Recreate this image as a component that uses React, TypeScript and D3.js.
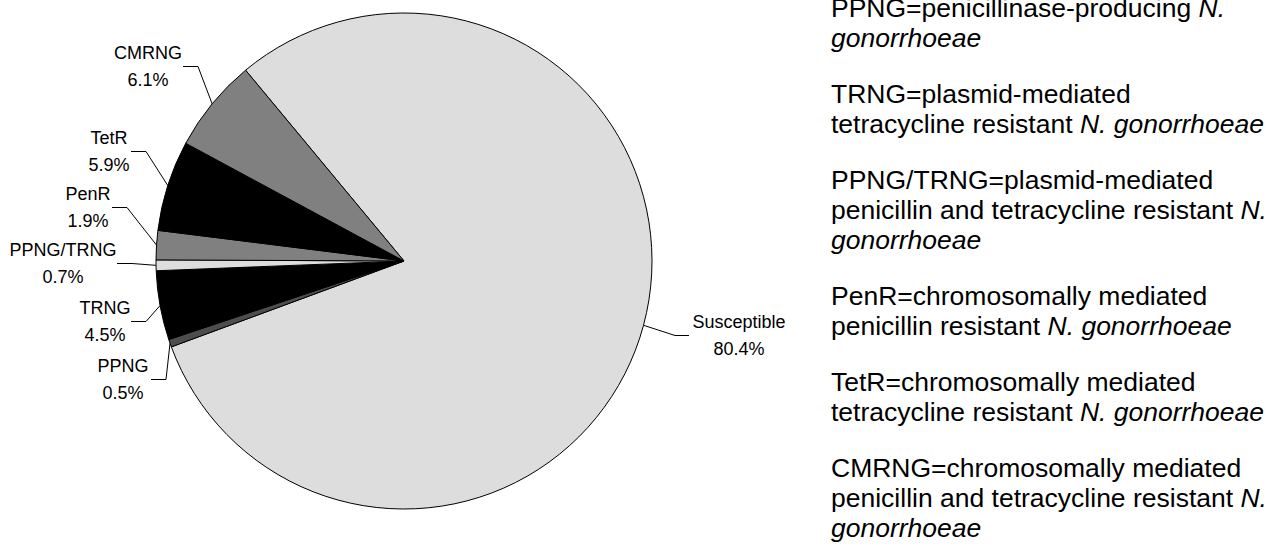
import * as d3 from "d3";
import React from "react";

// slice order follows the pie clockwise, starting at the Susceptible wedge
const categories = ["Susceptible", "PPNG", "TRNG", "PPNG/TRNG", "PenR", "TetR", "CMRNG"];
const percents = [80.4, 0.5, 4.5, 0.7, 1.9, 5.9, 6.1];
const sliceColors = ["#dddddd", "#4d4d4d", "#000000", "#dddddd", "#808080", "#000000", "#808080"];

// legend text: each line is a list of [text, italic] runs
const legendLines: [string, boolean][][][] = [
  [[["PPNG=penicillinase-producing ", false], ["N.", true]], [["gonorrhoeae", true]]],
  [[["TRNG=plasmid-mediated", false]], [["tetracycline resistant ", false], ["N. gonorrhoeae", true]]],
  [
    [["PPNG/TRNG=plasmid-mediated", false]],
    [["penicillin and tetracycline resistant ", false], ["N.", true]],
    [["gonorrhoeae", true]],
  ],
  [[["PenR=chromosomally mediated", false]], [["penicillin resistant ", false], ["N. gonorrhoeae", true]]],
  [[["TetR=chromosomally mediated", false]], [["tetracycline resistant ", false], ["N. gonorrhoeae", true]]],
  [
    [["CMRNG=chromosomally mediated", false]],
    [["penicillin and tetracycline resistant ", false], ["N.", true]],
    [["gonorrhoeae", true]],
  ],
];

// label placement: text centre x, name line y, elbow of the leader line
const labelLayout: Record<string, { tx: number; ty: number; ex: number; side: number }> = {
  Susceptible: { tx: 739, ty: 322, ex: 675, side: 1 },
  PPNG: { tx: 123, ty: 366, ex: 166, side: -1 },
  TRNG: { tx: 105, ty: 308, ex: 146, side: -1 },
  "PPNG/TRNG": { tx: 63, ty: 250, ex: 132, side: -1 },
  PenR: { tx: 88, ty: 194, ex: 127, side: -1 },
  TetR: { tx: 109, ty: 138, ex: 146, side: -1 },
  CMRNG: { tx: 148, ty: 53, ex: 198, side: -1 },
};

const FONT = "'Liberation Sans', Arial, Helvetica, sans-serif";

export default function App() {
  const width = 1288;
  const height = 546;
  const cx = 404;
  const cy = 261;
  const radius = 248;

  const data = categories.map((c, i) => ({ name: c, value: percents[i], color: sliceColors[i] }));

  // the first wedge (Susceptible) starts at about 10:40 on the clock face
  const start = (-39.7 * Math.PI) / 180;
  const pie = d3
    .pie<{ name: string; value: number; color: string }>()
    .sort(null)
    .value((d) => d.value)
    .startAngle(start)
    .endAngle(start + 2 * Math.PI);
  const arcs = pie(data);
  const arc = d3.arc<d3.PieArcDatum<any>>().innerRadius(0).outerRadius(radius);

  const labelSize = 18;
  const lineGap = 27;
  const legendX = 831;
  const legendSize = 26.5;
  const legendLine = 30;
  const legendPara = 26;

  let y = 8;
  const legendRows: { y: number; runs: [string, boolean][] }[] = [];
  legendLines.forEach((para) => {
    para.forEach((line) => {
      legendRows.push({ y, runs: line });
      y += legendLine;
    });
    y += legendPara;
  });

  return (
    <svg
      width={width}
      height={height}
      style={{ position: "absolute", left: 0, top: 0, background: "#fff" }}
      fontFamily={FONT}
    >
      <g transform={`translate(${cx},${cy})`}>
        {arcs.map((a) => (
          <path key={a.data.name} d={arc(a) || ""} fill={a.data.color} stroke="#000" strokeWidth={1} />
        ))}
      </g>

      {arcs.map((a) => {
        const lay = labelLayout[a.data.name];
        const mid = (a.startAngle + a.endAngle) / 2;
        const px = cx + radius * Math.sin(mid);
        const py = cy - radius * Math.cos(mid);
        const ey = lay.ty + lineGap / 2;
        const endX = lay.side < 0 ? lay.ex - 15 : lay.ex + 14;
        return (
          <g key={a.data.name}>
            <polyline
              points={`${px},${py} ${lay.ex},${ey} ${endX},${ey}`}
              fill="none"
              stroke="#000"
              strokeWidth={1}
            />
            <text x={lay.tx} y={lay.ty + 6} textAnchor="middle" fontSize={labelSize} fill="#000">
              {a.data.name}
            </text>
            <text x={lay.tx} y={lay.ty + lineGap + 6} textAnchor="middle" fontSize={labelSize} fill="#000">
              {a.data.value.toFixed(1)}%
            </text>
          </g>
        );
      })}

      {legendRows.map((row, i) => (
        <text key={i} x={legendX} y={row.y + 9} fontSize={legendSize} fill="#000">
          {row.runs.map(([t, it], j) => (
            <tspan key={j} fontStyle={it ? "italic" : "normal"}>
              {t}
            </tspan>
          ))}
        </text>
      ))}
    </svg>
  );
}
